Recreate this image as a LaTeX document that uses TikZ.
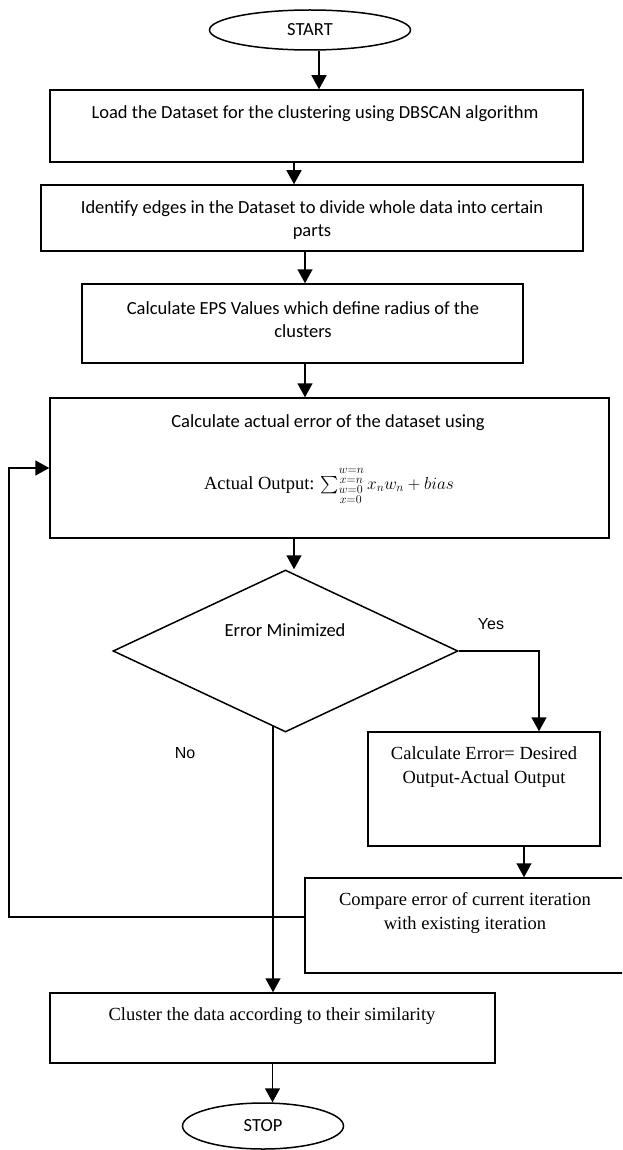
\documentclass[tikz,border=0pt]{standalone}
\usepackage{amsmath}
\usepackage{fontspec}
\setmainfont{Liberation Serif}
\newfontfamily\calfont{Carlito}
\newfontfamily\arialfont{Liberation Sans}
\usetikzlibrary{shapes.geometric,arrows.meta}
\tikzset{
  fbox/.style={draw, line width=1.5pt, rectangle, inner sep=0pt},
  term/.style={draw, line width=1.5pt, ellipse, inner sep=0pt, font=\calfont\fontsize{18.5}{22}\selectfont},
  ctext/.style={inner sep=0pt, align=center, font=\calfont\fontsize{18.5}{23}\selectfont},
  stext/.style={inner sep=0pt, align=center, font=\fontsize{18.5}{24}\selectfont},
  ltext/.style={inner sep=0pt, font=\arialfont\fontsize{16}{18}\selectfont},
  arr/.style={line width=1.5pt, -{Triangle[width=15pt,length=14pt]}},
  ln/.style={line width=1.5pt}
}
\begin{document}
\begin{tikzpicture}[x=1pt,y=-1pt]
\clip (0,0) rectangle (622,1150);
\fill[white] (0,0) rectangle (622,1150);
% terminals
\node[term, minimum width=201pt, minimum height=40pt] (start) at (310,30) {START};
\node[term, minimum width=161pt, minimum height=46pt] (stop) at (263,1126) {STOP};
% boxes
\node[fbox, minimum width=533pt, minimum height=72pt] (b1) at (316.5,126) {};
\node[ctext] (t1) at (315,114) {Load the Dataset for the clustering using DBSCAN algorithm};
\node[fbox, minimum width=542pt, minimum height=66pt] (b2) at (312,218) {};
\node[ctext] (t2) at (312,220) {Identify edges in the Dataset to divide whole data into certain\\parts};
\node[fbox, minimum width=441pt, minimum height=79pt] (b3) at (302.5,323.5) {};
\node[ctext] (t3) at (303,320) {Calculate EPS Values which define radius of the\\clusters};
\node[fbox, minimum width=559pt, minimum height=140pt] (b4) at (329.5,468) {};
\node[ctext] (t4) at (328,423) {Calculate actual error of the dataset using};
\node[stext] (f4) at (329,486) {Actual Output: $\sum_{\substack{w=0\\x=0}}^{\substack{w=n\\x=n}} x_n w_n + bias$};
\node[draw, line width=1.5pt, diamond, inner sep=0pt, minimum width=345pt, minimum height=162pt] (dia) at (285.5,651) {};
\node[ctext] (td) at (285,630) {Error Minimized};
\node[fbox, minimum width=232pt, minimum height=114pt] (b5) at (484,789) {};
\node[stext] (t5) at (484,767) {Calculate Error= Desired\\Output-Actual Output};
\node[fbox, minimum width=320pt, minimum height=95pt] (b7) at (465,925.5) {};
\node[stext] (t7) at (465,913) {Compare error of current iteration\\with existing iteration};
\node[fbox, minimum width=445pt, minimum height=70pt] (b6) at (272.5,1028) {};
\node[stext] (t6) at (272,1016) {Cluster the data according to their similarity};
% labels
\node[ltext] (yes) at (491,624) {Yes};
\node[ltext] (no) at (185,753) {No};
% connectors
\coordinate (noS) at (273,726);
\coordinate (loopA) at (9,917);
\draw[arr] ([xshift=9pt]start.south) -- ([xshift=9pt]start.south |- b1.north);
\draw[arr] ([xshift=-22.5pt]b1.south) -- ([xshift=-22.5pt]b1.south |- b2.north);
\draw[arr] ([xshift=-7pt]b2.south) -- ([xshift=-7pt]b2.south |- b3.north);
\draw[arr] ([xshift=2.5pt]b3.south) -- ([xshift=2.5pt]b3.south |- b4.north);
\draw[arr] ([xshift=-35.5pt]b4.south) -- ([xshift=-35.5pt]b4.south |- dia.north);
\draw[arr] (dia.east) -| ([xshift=55pt]b5.north);
\draw[arr] (noS) -- (noS |- b6.north);
\draw[arr] ([xshift=40pt]b5.south) -- ([xshift=40pt]b5.south |- b7.north);
\draw[arr] (b7.west |- loopA) -- (loopA) |- (b4.west);
\draw[arr] (b6.south) -- (b6.south |- stop.north);
\end{tikzpicture}
\end{document}
